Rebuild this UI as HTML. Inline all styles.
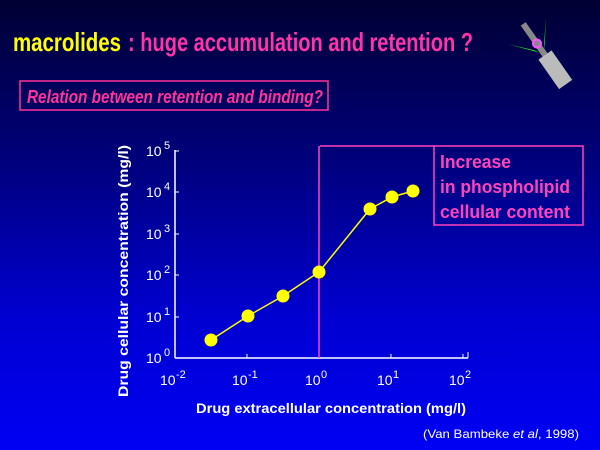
<!DOCTYPE html>
<html><head><style>
body{margin:0;width:600px;height:450px;overflow:hidden;background:linear-gradient(#000033 0%,#00007a 35%,#0000d0 70%,#0000f4 100%);}
svg{position:absolute;left:0;top:0}
text{font-family:"Liberation Sans",sans-serif}
</style></head><body>
<svg width="600" height="450">
<text x="13" y="51" font-size="26" font-weight="bold" fill="#ffff00" textLength="108" lengthAdjust="spacingAndGlyphs">macrolides</text>
<text x="128" y="51" font-size="26" font-weight="bold" fill="#ff33aa" textLength="345" lengthAdjust="spacingAndGlyphs">: huge accumulation and retention ?</text>
<!-- rocket icon -->
<g transform="translate(545,55) rotate(55)">
<polygon points="-10,-6 -30,-22 -5,-3" fill="#22ff22"/>
<polygon points="-10,6 -30,24 -5,3" fill="#22ff22"/>
<rect x="-38" y="-3" width="40" height="6" fill="#888"/>
<rect x="0" y="-8" width="36" height="16" fill="#bbb"/>
<circle cx="-14" cy="0" r="4" fill="none" stroke="#ff55ff" stroke-width="2"/>
</g>
<rect x="20" y="81" width="308" height="29" fill="none" stroke="#ff3399" stroke-width="1.5"/>
<text x="27" y="103" font-size="18" font-style="italic" font-weight="bold" fill="#ff3399" textLength="296" lengthAdjust="spacingAndGlyphs">Relation between retention and binding?</text>
<!-- axes -->
<g stroke="#fff" stroke-width="1.5" fill="none">
<line x1="175" y1="150" x2="175" y2="358"/>
<line x1="175" y1="358" x2="468" y2="358"/>
</g>
<g stroke="#fff" stroke-width="1">
<path d="M175,151h4M175,192h4M175,234h4M175,275h4M175,317h4M247,358v-4M319,358v-4M391,358v-4M463,358v-4M468,358v-6"/>
</g>
<g font-size="14" fill="#fff">
<text x="146" y="363">10</text><text x="164" y="356" font-size="11">0</text>
<text x="146" y="322">10</text><text x="164" y="315" font-size="11">1</text>
<text x="146" y="280">10</text><text x="164" y="273" font-size="11">2</text>
<text x="146" y="239">10</text><text x="164" y="232" font-size="11">3</text>
<text x="146" y="197">10</text><text x="164" y="190" font-size="11">4</text>
<text x="146" y="156">10</text><text x="164" y="149" font-size="11">5</text>
<text x="160" y="385">10</text><text x="176" y="378" font-size="11">-2</text>
<text x="232" y="385">10</text><text x="248" y="378" font-size="11">-1</text>
<text x="305" y="385">10</text><text x="321" y="378" font-size="11">0</text>
<text x="377" y="385">10</text><text x="393" y="378" font-size="11">1</text>
<text x="449" y="385">10</text><text x="465" y="378" font-size="11">2</text>
</g>
<line x1="319" y1="146" x2="319" y2="358" stroke="#ff44bb" stroke-width="1.5"/>
<polyline points="320,146 434,146" stroke="#ff44bb" stroke-width="1.5" fill="none"/>
<rect x="434" y="146" width="149" height="79" fill="none" stroke="#ff44bb" stroke-width="1.5"/>
<g font-size="18" font-weight="bold" fill="#ff44bb">
<text x="440" y="168" textLength="71" lengthAdjust="spacingAndGlyphs">Increase</text>
<text x="440" y="193" textLength="130" lengthAdjust="spacingAndGlyphs">in phospholipid</text>
<text x="440" y="218" textLength="130" lengthAdjust="spacingAndGlyphs">cellular content</text>
</g>
<polyline points="211,340 248,316 283,296 319,272 370,209 392,197 413,191" fill="none" stroke="#ffff00" stroke-width="1.5"/>
<g fill="#ffff00">
<circle cx="211" cy="340" r="6.5"/><circle cx="248" cy="316" r="6.5"/><circle cx="283" cy="296" r="6.5"/><circle cx="319" cy="272" r="6.5"/><circle cx="370" cy="209" r="6.5"/><circle cx="392" cy="197" r="6.5"/><circle cx="413" cy="191" r="6.5"/>
</g>
<text x="196" y="413" font-size="14" font-weight="bold" fill="#fff" textLength="270" lengthAdjust="spacingAndGlyphs">Drug extracellular concentration (mg/l)</text>
<text transform="translate(128,397) rotate(-90)" font-size="14" font-weight="bold" fill="#fff" textLength="252" lengthAdjust="spacingAndGlyphs">Drug cellular concentration (mg/l)</text>
<text x="423" y="438" font-size="12" fill="#fff" textLength="156" lengthAdjust="spacingAndGlyphs">(Van Bambeke <tspan font-style="italic">et al</tspan>, 1998)</text>
</svg>
</body></html>
